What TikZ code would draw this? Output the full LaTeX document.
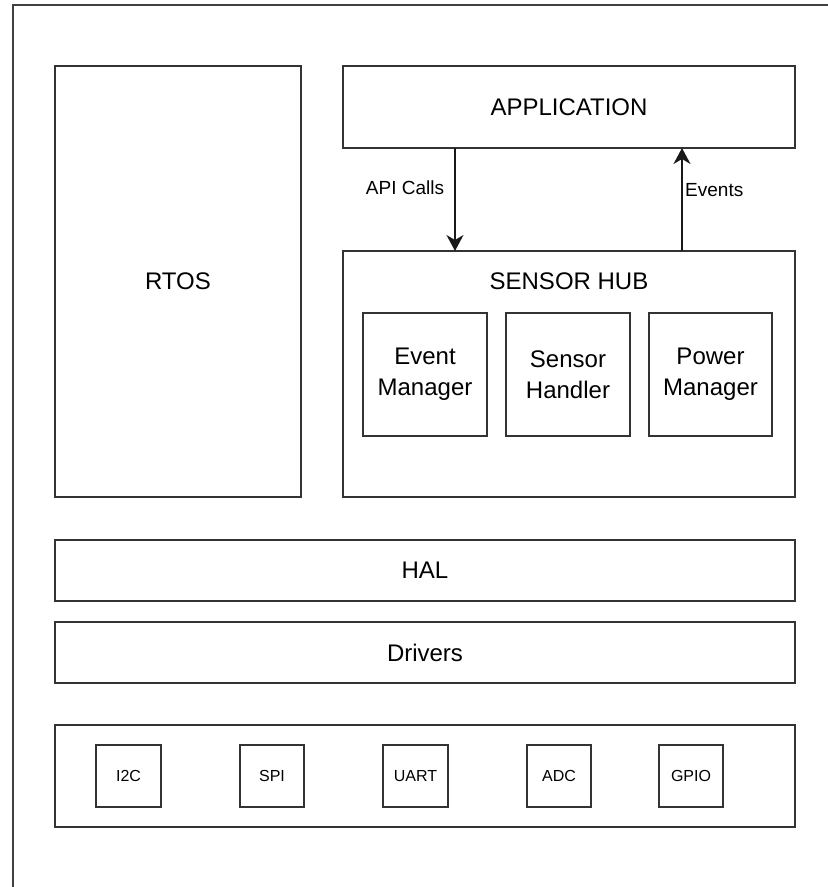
\documentclass[tikz,border=0pt]{standalone}
\usepackage{fontspec}
\setmainfont{Liberation Sans}
\usetikzlibrary{arrows.meta}
\begin{document}
\begin{tikzpicture}[x=1pt,y=1pt,
  box/.style={draw=black!80, line width=1.6pt, fill=white, inner sep=0pt, outer sep=0pt, anchor=north west, align=center, font=\fontsize{24}{31}\selectfont},
  pbox/.style={box, font=\fontsize{16}{20}\selectfont},
  lbl/.style={font=\fontsize{19}{22}\selectfont, inner sep=0pt},
  arr/.style={line width=1.6pt, draw=black!90, -{Stealth[length=16pt,width=17pt,inset=5pt]}}]
\useasboundingbox (0,0) rectangle (828,-887);
\begin{scope}
\clip (0,0) rectangle (828,-887);
\draw[draw=black!75, line width=1.8pt] (13,-5) rectangle (860,-920);
\end{scope}
% upper blocks
\node[box, minimum width=246pt, minimum height=431pt] (rtos) at (55,-66) {RTOS};
\node[box, minimum width=452pt, minimum height=82pt] (app) at (343,-66) {APPLICATION};
\node[box, minimum width=452pt, minimum height=246pt] (hub) at (343,-251) {};
\node[font=\fontsize{24}{31}\selectfont, inner sep=0pt] (hubtitle) at (569,-281) {SENSOR HUB};
\node[box, minimum width=124pt, minimum height=123pt] (evm) at (363,-313) {Event\\Manager};
\node[box, minimum width=124pt, minimum height=123pt] (sh) at (506,-313) {Sensor\\Handler};
\node[box, minimum width=123pt, minimum height=123pt] (pm) at (649,-313) {Power\\Manager};
% layers
\node[box, minimum width=740pt, minimum height=61pt] (hal) at (55,-540) {HAL};
\node[box, minimum width=740pt, minimum height=61pt] (drv) at (55,-622) {Drivers};
\node[box, minimum width=740pt, minimum height=102pt] (periph) at (55,-725) {};
\node[pbox, minimum width=65pt, minimum height=62pt] (i2c) at (96,-745) {I2C};
\node[pbox, minimum width=64pt, minimum height=62pt] (spi) at (240,-745) {SPI};
\node[pbox, minimum width=65pt, minimum height=62pt] (uart) at (383,-745) {UART};
\node[pbox, minimum width=64pt, minimum height=62pt] (adc) at (527,-745) {ADC};
\node[pbox, minimum width=64pt, minimum height=62pt] (gpio) at (659,-745) {GPIO};
% arrows
\coordinate (xa) at (455,0);
\coordinate (xe) at (682,0);
\draw[arr] (xa |- app.south) -- (xa |- hub.north);
\draw[arr] (xe |- hub.north) -- (xe |- app.south);
\node[lbl] (apilbl) at (405,-188) {API Calls};
\node[lbl, anchor=west] (evlbl) at (685,-190) {Events};
\end{tikzpicture}
\end{document}
